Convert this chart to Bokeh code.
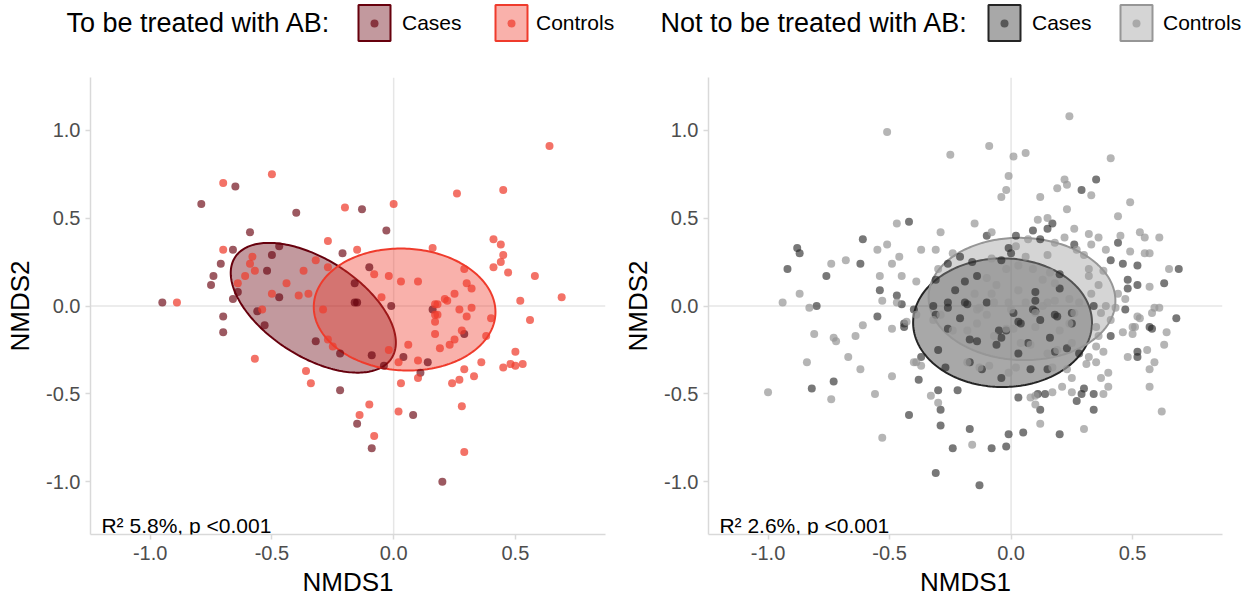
import numpy as np
from bokeh.plotting import figure
from bokeh.models import Range1d, FixedTicker, NumeralTickFormatter, Span, Label, Legend, LegendItem
from bokeh.layouts import row, column
from bokeh.embed import file_html
from bokeh.resources import INLINE

FONT = "Liberation Sans"

# ---------------- data ----------------
x_ticks = [-1.0, -0.5, 0.0, 0.5]
y_ticks = [-1.0, -0.5, 0.0, 0.5, 1.0]
group_labels = ["Cases", "Controls"]
panel_titles = ["To be treated with AB:", "Not to be treated with AB:"]
panel_stats = ["R\u00b2 5.8%, p <0.001", "R\u00b2 2.6%, p <0.001"]

# Panel 1: to be treated with AB
ab_cases_x = [-0.65, -0.79, -0.40, -0.59, -0.66, -0.47, -0.50, -0.71, -0.52, -0.74, -0.75, -0.64, -0.66,
              -0.47, -0.95, -0.70, -0.56, -0.21, -0.13, -0.03, -0.10, -0.16, -0.16, -0.01, 0.16, -0.70,
              -0.53, -0.15, -0.32, -0.22, -0.09, -0.04, 0.04, 0.14, 0.11, 0.29, -0.22, 0.08, -0.15, -0.09, 0.20]
ab_cases_y = [0.68, 0.58, 0.53, 0.42, 0.32, 0.34, 0.29, 0.24, 0.20, 0.17, 0.12, 0.08, 0.04,
              0.05, 0.02, -0.06, -0.03, 0.30, 0.55, 0.43, 0.22, 0.13, 0.02, 0.00, -0.02, -0.15,
              -0.11, 0.02, -0.20, -0.27, -0.28, -0.34, -0.29, -0.32, -0.38, -0.16, -0.48, -0.62, -0.67, -0.81, -1.00]

ab_ctrl_x = [-0.50, -0.70, -0.20, -0.70, -0.27, -0.58, -0.59, -0.57, -0.61, -0.37, -0.44, -0.32, -0.27,
             -0.64, -0.50, -0.39, -0.35, -0.89, -0.54, -0.29, 0.64, 0.26, 0.45, 0.00, 0.41, 0.44,
             0.45, 0.44, 0.41, 0.47, 0.58, 0.69, 0.52, 0.16, 0.29, 0.30, 0.32, 0.25, 0.21, 0.17,
             0.17, 0.27, 0.32, 0.30, 0.10, 0.03, -0.02, -0.08, -0.15, -0.05, 0.56, 0.40, -0.27, -0.25,
             -0.02, 0.06, 0.02, 0.10, 0.19, 0.23, 0.25, 0.28, 0.38, 0.17, 0.17, 0.18, 0.18, 0.22,
             0.50, 0.48, 0.50, 0.53, 0.45, 0.36, 0.29, 0.33, 0.27, 0.24, 0.10, 0.03, 0.28, 0.29,
             0.02, -0.10, -0.14, -0.08, -0.36, -0.34, -0.57]
ab_ctrl_y = [0.75, 0.70, 0.56, 0.32, 0.37, 0.28, 0.24, 0.20, 0.17, 0.20, 0.13, 0.26, 0.22,
             0.13, 0.07, 0.06, 0.07, 0.02, -0.02, -0.02, 0.91, 0.64, 0.66, 0.58, 0.38, 0.35,
             0.29, 0.25, 0.22, 0.19, 0.17, 0.05, 0.03, 0.33, 0.21, 0.13, 0.10, 0.07, 0.04, 0.01,
             -0.05, -0.02, -0.01, -0.06, 0.14, 0.14, 0.17, 0.18, 0.32, 0.05, -0.08, -0.07, -0.19, -0.23,
             -0.25, -0.22, -0.32, -0.31, -0.24, -0.22, -0.19, -0.14, -0.17, -0.16, -0.09, -0.05, 0.01, 0.03,
             -0.26, -0.33, -0.34, -0.33, -0.35, -0.32, -0.36, -0.40, -0.42, -0.44, -0.41, -0.44, -0.57, -0.83,
             -0.60, -0.56, -0.62, -0.74, -0.37, -0.44, -0.30]

# Panel 2: not to be treated with AB
no_cases_x = [-0.42, -0.61, -0.88, -0.87, -0.92, -0.76, -0.62, -0.26, -0.31, -0.54, -0.47, -0.45, -0.80,
              -0.55, -0.44, -0.44, -0.32, -0.40, -0.23, -0.19, -0.26, -0.26, -0.21, -0.31, 0.35, 0.29,
              0.17, 0.15, 0.09, 0.12, 0.02, -0.10, -0.01, 0.00, 0.26, 0.44, 0.41, 0.46, 0.52, 0.69,
              0.48, 0.52, 0.48, 0.63, 0.47, 0.68, 0.57, -0.21, -0.16, -0.04, -0.14, -0.19, 0.10, 0.10,
              0.10, 0.20, 0.18, 0.25, 0.01, 0.03, 0.12, 0.25, 0.20, -0.37, -0.38, -0.30, -0.22, -0.29,
              -0.29, -0.42, -0.73, -0.82, -0.17, -0.24, -0.08, -0.02, -0.01, 0.05, 0.20, -0.31, -0.13,
              0.03, 0.12, 0.11, 0.14, 0.27, 0.29, 0.30, 0.34, 0.34, 0.28, 0.41, 0.52, 0.52, 0.58,
              -0.18, -0.26, -0.14, -0.17, -0.05, -0.04, 0.04, 0.07, 0.03, 0.16, 0.19, 0.15, 0.08, -0.04,
              -0.12, -0.27, -0.17, -0.30, 0.18, 0.23, 0.09, -0.10, -0.02, -0.06, 0.34]
no_cases_y = [0.48, 0.38, 0.33, 0.30, 0.21, 0.17, 0.24, 0.24, 0.15, 0.09, 0.06, 0.01, 0.00,
              -0.06, -0.10, -0.12, 0.00, -0.02, 0.09, 0.14, 0.02, -0.01, -0.07, -0.05, 0.72, 0.66,
              0.47, 0.44, 0.43, 0.38, 0.40, 0.40, 0.33, 0.30, 0.35, 0.36, 0.26, 0.24, 0.23, 0.21,
              0.15, 0.12, 0.10, 0.13, -0.02, -0.07, -0.12, 0.28, 0.25, 0.26, 0.17, 0.02, 0.08, 0.03,
              -0.03, 0.10, -0.05, -0.04, -0.04, -0.09, -0.08, -0.10, 0.18, -0.29, -0.42, -0.48, -0.48, -0.59,
              -0.68, -0.62, -0.43, -0.47, -0.70, -0.81, -0.81, -0.80, -0.73, -0.72, -0.73, -0.95, -1.02,
              -0.52, -0.59, -0.50, -0.50, -0.54, -0.50, -0.47, -0.50, -0.59, -0.27, -0.17, -0.26, -0.29, -0.13,
              0.01, -0.13, -0.20, -0.19, -0.14, -0.18, -0.10, -0.21, -0.27, -0.18, -0.06, -0.36, -0.36, -0.41,
              -0.36, -0.35, -0.32, -0.25, -0.26, -0.24, -0.02, 0.02, -0.14, -0.22, 0.00]

no_ctrl_x = [-0.51, -0.25, -0.47, -0.29, -0.51, -0.55, -0.37, -0.31, -0.24, -0.46, -0.49, -0.68, -0.74,
             -0.30, -0.54, -0.45, -0.39, -0.87, -0.53, -0.94, -0.83, -0.47, -0.61, -0.49, -0.43, 0.24,
             -0.09, 0.01, 0.06, 0.41, -0.01, -0.02, -0.04, 0.22, 0.23, 0.19, 0.12, 0.33, 0.49, 0.23,
             0.44, -0.15, -0.08, 0.11, 0.15, 0.26, 0.32, 0.36, 0.45, 0.53, 0.55, 0.61, 0.22, 0.33,
             0.39, 0.49, 0.55, 0.57, 0.65, 0.57, 0.61, 0.59, 0.58, 0.52, 0.47, 0.44, 0.41, 0.50,
             0.07, 0.02, 0.15, 0.18, 0.27, 0.30, 0.32, 0.38, 0.36, 0.33, 0.28, 0.13, 0.09, -0.02,
             -0.08, -0.15, -0.08, 0.03, 0.18, 0.24, -0.13, -0.01, 0.13, -0.81, -0.73, -0.72, -0.64, -0.67,
             -0.84, -0.62, -1.00, -0.74, -0.56, -0.53, -0.40, -0.37, -0.33, -0.30, -0.16, 0.10, 0.08, 0.12,
             0.10, 0.17, 0.21, 0.25, 0.30, 0.38, 0.40, 0.37, 0.40, 0.35, 0.38, 0.35, 0.32, 0.46,
             0.48, 0.51, 0.50, 0.53, 0.57, 0.59, 0.57, 0.56, 0.64, 0.63, 0.62, -0.29, -0.24, -0.07,
             -0.02, 0.01, 0.04, 0.15, 0.19, 0.25, 0.24, 0.26, 0.35, 0.36, -0.14, -0.07, 0.06, 0.15,
             0.10, 0.39, -0.39, -0.39, -0.32, -0.18, -0.14, -0.10, -0.10, -0.06, 0.03, 0.06, 0.16,
             0.00, 0.18, 0.32, 0.37, 0.43, 0.31, 0.23, 0.17, 0.02, -0.01, -0.09, -0.13, -0.18, -0.49,
             0.25, 0.08, 0.10, 0.20]
no_ctrl_y = [0.99, 0.86, 0.47, 0.42, 0.35, 0.32, 0.32, 0.32, 0.30, 0.28, 0.24, 0.26, 0.24,
             0.21, 0.17, 0.17, 0.14, 0.07, 0.03, 0.02, -0.01, 0.02, -0.11, -0.13, -0.09, 1.08,
             0.91, 0.85, 0.87, 0.84, 0.74, 0.66, 0.62, 0.72, 0.69, 0.67, 0.62, 0.63, 0.59, 0.55,
             0.51, 0.47, 0.42, 0.49, 0.50, 0.44, 0.41, 0.39, 0.40, 0.42, 0.39, 0.39, 0.39, 0.35,
             0.32, 0.31, 0.30, 0.30, 0.21, 0.11, -0.01, -0.01, -0.04, -0.06, 0.04, 0.07, -0.08, -0.12,
             0.38, 0.34, 0.29, 0.36, 0.32, 0.29, 0.21, 0.20, 0.12, 0.07, 0.02, 0.15, 0.21, 0.21,
             0.27, 0.07, 0.07, 0.09, 0.13, 0.04, -0.01, 0.02, 0.00, -0.16, -0.18, -0.20, -0.17, -0.29,
             -0.32, -0.36, -0.49, -0.53, -0.50, -0.75, -0.32, -0.34, -0.51, -0.55, -0.79, -0.51, -0.52, -0.67,
             -0.56, -0.49, -0.46, -0.49, -0.70, -0.50, -0.46, -0.41, -0.38, -0.32, -0.26, -0.23, -0.29, -0.15,
             -0.29, -0.12, -0.16, -0.07, -0.36, -0.32, -0.46, -0.25, -0.15, -0.22, -0.60, -0.05, -0.14, -0.17,
             -0.13, -0.13, -0.21, -0.27, -0.25, -0.21, -0.10, -0.04, -0.12, -0.17, -0.02, 0.02, 0.02, 0.02,
             -0.04, 0.00, -0.32, -0.05, -0.08, -0.14, -0.10, -0.05, 0.16, 0.12, 0.23, 0.28, 0.19,
             -0.02, 0.03, 0.17, -0.04, -0.01, -0.33, -0.36, -0.35, -0.35, -0.38, -0.34, -0.35, -0.32, -0.40,
             -0.41, -0.22, -0.12, -0.14]

# confidence ellipses: centre x, centre y, semi-axis a, semi-axis b, rotation (deg)
ab_cases_ellipse = [-0.33, -0.01, 0.44, 0.24, -49.5]
ab_ctrl_ellipse = [0.045, -0.02, 0.375, 0.345, -15.0]
no_cases_ellipse = [-0.035, -0.095, 0.368, 0.366, 0.0]
no_ctrl_ellipse = [0.045, 0.04, 0.385, 0.347, -8.0]

# colours (ggplot-like)
ab_cases_col = "#67000D"
ab_ctrl_col = "#EF3B2C"
no_cases_col = "#252525"
no_ctrl_col = "#969696"

HEADER_H = 50
FRAME_TOP = 27
FRAME_BOTTOM_MARGIN = 66
TOTAL_W = 1245


def ellipse_outline(params, n=240):
    cx, cy, a, b, ang = params
    t = np.linspace(0, 2 * np.pi, n)
    th = np.deg2rad(ang)
    xs = cx + a * np.cos(t) * np.cos(th) - b * np.sin(t) * np.sin(th)
    ys = cy + a * np.cos(t) * np.sin(th) + b * np.sin(t) * np.cos(th)
    return xs, ys


def add_header_block(h, title, title_x, groups, key_pos):
    h.add_layout(Label(x=title_x, y=HEADER_H - 22, text=title, text_font=FONT, text_font_size="27px",
                       text_color="black", text_baseline="middle"))
    for lab, (gx, gy, ell, col, p_alpha), (box_left, label_left) in zip(group_labels, groups, key_pos):
        ex, ey = ellipse_outline(ell)
        pr = h.patch(ex, ey, fill_color=col, fill_alpha=0.4, line_color=col, line_width=2, visible=False)
        sr = h.scatter(gx, gy, size=8, fill_color=col, fill_alpha=p_alpha, line_color=None, visible=False)
        common = dict(orientation="horizontal", padding=0, margin=0, spacing=0,
                      background_fill_alpha=0, border_line_alpha=0, inactive_fill_alpha=0,
                      label_text_font=FONT, label_text_color="black")
        leg = Legend(items=[LegendItem(label=lab, renderers=[pr])],
                     location=(box_left - 4, HEADER_H - 45),
                     glyph_width=40, glyph_height=45, label_height=45,
                     label_standoff=label_left - (box_left + 36), label_text_font_size="21px", **common)
        h.add_layout(leg)
        dleg = Legend(items=[LegendItem(label=" ", renderers=[sr])],
                      location=(box_left + 6, HEADER_H - 12.5 - 20),
                      glyph_width=20, glyph_height=20, label_height=20,
                      label_standoff=0, label_text_font_size="4px", **common)
        h.add_layout(dleg)


def make_panel(width, border_left, border_right, stat, groups):
    p = figure(width=width, height=600 - HEADER_H, output_backend="svg", toolbar_location=None,
               x_range=Range1d(-1.245, 0.87), y_range=Range1d(-1.3, 1.3),
               min_border_left=border_left, min_border_right=border_right,
               min_border_top=FRAME_TOP, min_border_bottom=FRAME_BOTTOM_MARGIN,
               background_fill_color="white", border_fill_color="white")
    p.outline_line_color = None
    p.grid.visible = False

    for dim in ("height", "width"):
        p.add_layout(Span(location=0, dimension=dim, line_color="#E6E6E6", line_width=1.5, level="underlay"))

    for (gx, gy, ell, col, p_alpha) in groups:
        ex, ey = ellipse_outline(ell)
        p.patch(ex, ey, fill_color=col, fill_alpha=0.4, line_color=col, line_width=2)
    for (gx, gy, ell, col, p_alpha) in groups:
        p.scatter(gx, gy, size=8, fill_color=col, fill_alpha=p_alpha, line_color=None)

    for ax in (p.xaxis, p.yaxis):
        ax.axis_line_color = "#D9D9D9"
        ax.axis_line_width = 1.5
        ax.major_tick_line_color = "#D9D9D9"
        ax.major_tick_line_width = 1.5
        ax.major_tick_out = 5
        ax.major_tick_in = 0
        ax.minor_tick_line_color = None
        ax.major_label_text_font = FONT
        ax.major_label_text_font_size = "20px"
        ax.major_label_text_color = "#4D4D4D"
        ax.axis_label_text_font = FONT
        ax.axis_label_text_font_size = "26px"
        ax.axis_label_text_font_style = "normal"
        ax.axis_label_text_color = "black"
        ax.formatter = NumeralTickFormatter(format="0.0")
    p.xaxis.ticker = FixedTicker(ticks=x_ticks)
    p.yaxis.ticker = FixedTicker(ticks=y_ticks)
    p.xaxis.axis_label = "NMDS1"
    p.yaxis.axis_label = "NMDS2"
    p.xaxis.major_label_standoff = 6
    p.xaxis.axis_label_standoff = 4
    p.yaxis.major_label_standoff = 5
    p.yaxis.axis_label_standoff = 8

    p.add_layout(Label(x=-1.2, y=-1.25, text=stat, text_font=FONT, text_font_size="21px",
                       text_color="black", text_baseline="alphabetic"))
    return p


left_groups = [(ab_cases_x, ab_cases_y, ab_cases_ellipse, ab_cases_col, 0.65),
               (ab_ctrl_x, ab_ctrl_y, ab_ctrl_ellipse, ab_ctrl_col, 0.72)]
right_groups = [(no_cases_x, no_cases_y, no_cases_ellipse, no_cases_col, 0.62),
                (no_ctrl_x, no_ctrl_y, no_ctrl_ellipse, no_ctrl_col, 0.7)]

header = figure(width=TOTAL_W, height=HEADER_H, output_backend="svg", toolbar_location=None,
                x_range=Range1d(0, TOTAL_W), y_range=Range1d(0, HEADER_H),
                min_border=0, x_axis_type=None, y_axis_type=None)
header.outline_line_color = None
header.grid.visible = False
add_header_block(header, panel_titles[0], 66, left_groups, [(358, 402), (495, 536)])
add_header_block(header, panel_titles[1], 660, right_groups, [(988, 1032), (1120, 1163)])

p1 = make_panel(620, 90, 15, panel_stats[0], left_groups)
p2 = make_panel(625, 88, 23, panel_stats[1], right_groups)

layout = column(header, row(p1, p2))
open("out.html", "w").write(file_html(layout, INLINE))
